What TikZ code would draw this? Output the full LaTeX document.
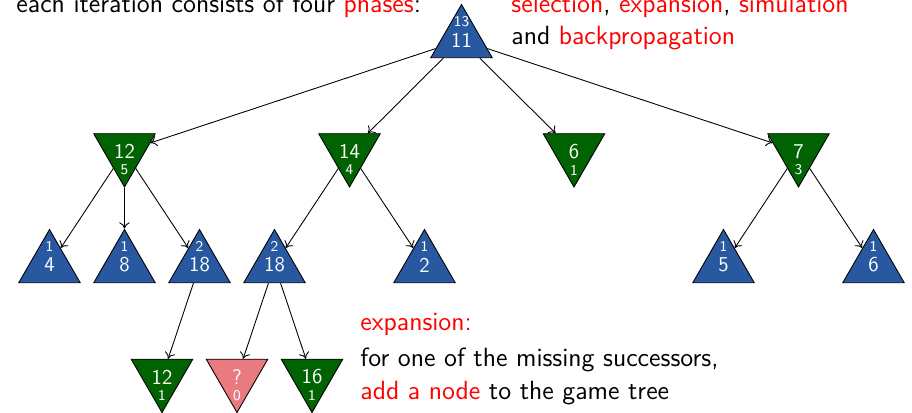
\documentclass[tikz,border=0pt]{standalone}
\usetikzlibrary{shapes.geometric, arrows.meta}
\renewcommand{\familydefault}{\sfdefault}
\definecolor{mctsblue}{RGB}{40,88,160}
\definecolor{mctsgreen}{RGB}{0,98,0}
\definecolor{mctspink}{RGB}{232,122,128}
\tikzset{
  maxnode/.style={regular polygon, regular polygon sides=3, draw, fill=mctsblue,
    text=white, minimum size=1.42cm, inner sep=0pt, font=\fontsize{12}{14}\selectfont},
  minnode/.style={maxnode, shape border rotate=180, fill=mctsgreen},
  newnode/.style={minnode, fill=mctspink},
  maxcount/.style={text=white, inner sep=0pt, font=\fontsize{8.5}{10}\selectfont, yshift=0.37cm},
  mincount/.style={text=white, inner sep=0pt, font=\fontsize{8.5}{10}\selectfont, yshift=-0.37cm},
  txt/.style={anchor=base west, inner sep=0pt, font=\fontsize{15}{18}\selectfont}
}
\begin{document}
\begin{tikzpicture}[>={To[length=3.6pt,width=6pt]}, line width=0.5pt]
    \useasboundingbox (0,0) rectangle (18.24,8.26);

    % Textos
    \node[txt] (phases) at (0.32,8.01) {each iteration consists of four \textcolor{red}{phases}:};
    \node[txt] (list1) at (10.22,8.01) {\textcolor{red}{selection}, \textcolor{red}{expansion}, \textcolor{red}{simulation}};
    \node[txt] (list2) at (10.22,7.36) {and \textcolor{red}{backpropagation}};
    \node[txt] (exphead) at (7.20,1.65) {\textcolor{red}{expansion:}};
    \node[txt] (exp1) at (7.20,0.93) {for one of the missing successors,};
    \node[txt] (exp2) at (7.20,0.26) {\textcolor{red}{add a node} to the game tree};

    % Raiz
    \node[maxnode, label={[maxcount]center:13}] (root) at (9.23,7.46) {11};

    % Primeiro nivel
    \node[minnode, label={[mincount]center:5}] (n12) at (2.49,5.23) {12};
    \node[minnode, label={[mincount]center:4}] (n14) at (6.99,5.23) {14};
    \node[minnode, label={[mincount]center:1}] (n6) at (11.48,5.23) {6};
    \node[minnode, label={[mincount]center:3}] (n7) at (15.97,5.23) {7};

    % Segundo nivel
    \node[maxnode, label={[maxcount]center:1}] (n4) at (0.99,2.96) {4};
    \node[maxnode, label={[maxcount]center:1}] (n8) at (2.49,2.96) {8};
    \node[maxnode, label={[maxcount]center:2}] (n18a) at (3.99,2.96) {18};
    \node[maxnode, label={[maxcount]center:2}] (n18b) at (5.49,2.96) {18};
    \node[maxnode, label={[maxcount]center:1}] (n2) at (8.49,2.96) {2};
    \node[maxnode, label={[maxcount]center:1}] (n5) at (14.47,2.96) {5};
    \node[maxnode, label={[maxcount]center:1}] (n6b) at (17.47,2.96) {6};

    % Terceiro nivel
    \node[minnode, label={[mincount]center:1}] (n12b) at (3.24,0.72) {12};
    \node[newnode, label={[mincount]center:0}] (new) at (4.74,0.72) {?};
    \node[minnode, label={[mincount]center:1}] (n16) at (6.24,0.72) {16};

    % Setas
    \path[->, draw] (root) -- (n12);
    \path[->, draw] (root) -- (n14);
    \path[->, draw] (root) -- (n6);
    \path[->, draw] (root) -- (n7);
    \path[->, draw] (n12) -- (n4);
    \path[->, draw] (n12) -- (n8);
    \path[->, draw] (n12) -- (n18a);
    \path[->, draw] (n14) -- (n18b);
    \path[->, draw] (n14) -- (n2);
    \path[->, draw] (n7) -- (n5);
    \path[->, draw] (n7) -- (n6b);
    \path[->, draw] (n18a) -- (n12b);
    \path[->, draw] (n18b) -- (new);
    \path[->, draw] (n18b) -- (n16);

\end{tikzpicture}
\end{document}
